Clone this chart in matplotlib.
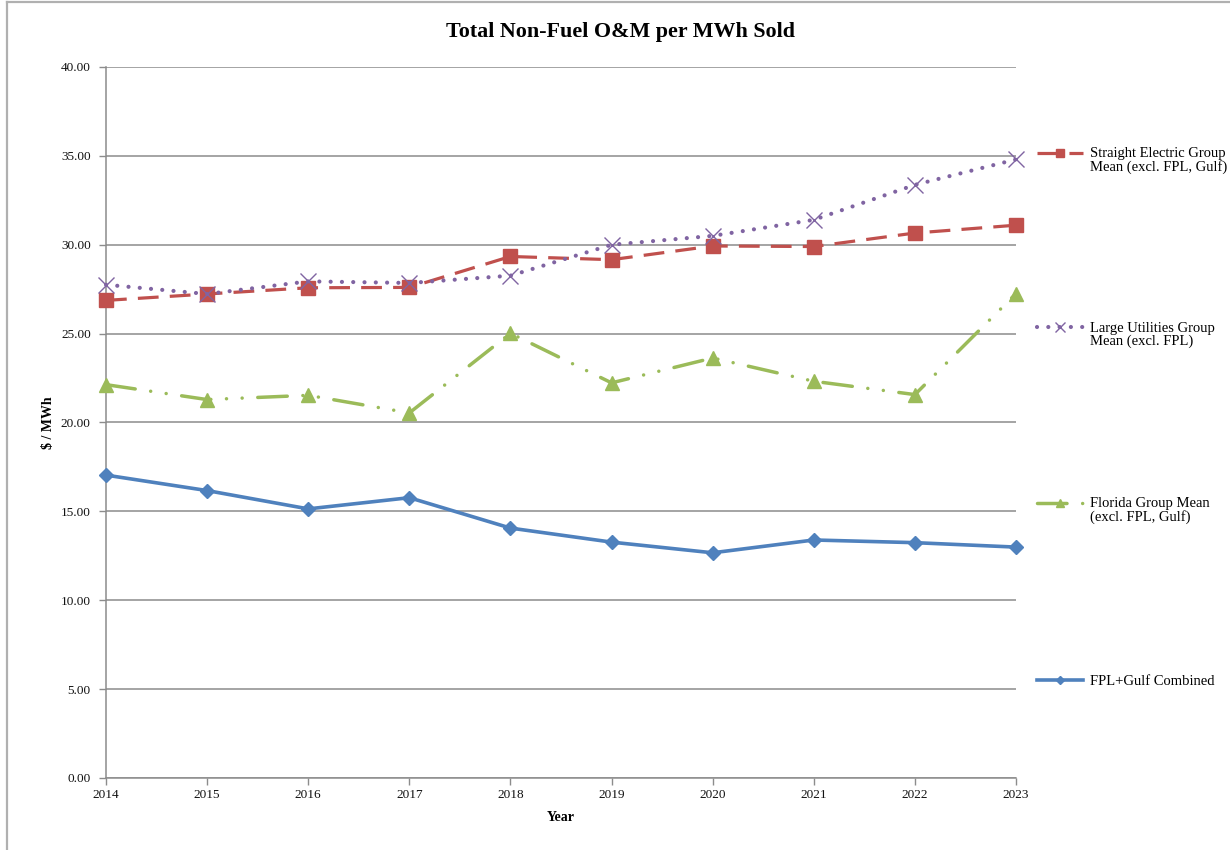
import matplotlib
matplotlib.use("Agg")
import matplotlib.pyplot as plt
from matplotlib.lines import Line2D
from matplotlib.legend_handler import HandlerLine2D

plt.rcParams['font.family'] = ['Liberation Serif', 'DejaVu Serif']

years = [2014, 2015, 2016, 2017, 2018, 2019, 2020, 2021, 2022, 2023]
straight_electric = [26.87, 27.23, 27.58, 27.60, 29.34, 29.16, 29.93, 29.90, 30.66, 31.10]
large_utilities = [27.75, 27.23, 27.94, 27.85, 28.26, 30.00, 30.50, 31.40, 33.37, 34.80]
florida_group = [22.13, 21.29, 21.53, 20.54, 25.02, 22.23, 23.63, 22.32, 21.57, 27.25]
fpl_gulf = [17.04, 16.17, 15.14, 15.77, 14.06, 13.27, 12.67, 13.39, 13.24, 12.99]

labels = [
    "Straight Electric Group\nMean (excl. FPL, Gulf)",
    "Large Utilities Group\nMean (excl. FPL)",
    "Florida Group Mean\n(excl. FPL, Gulf)",
    "FPL+Gulf Combined",
]
y_ticks = [0, 5, 10, 15, 20, 25, 30, 35, 40]


class ShiftedLineHandler(HandlerLine2D):
    """Line handler whose sample sits a given number of points higher."""
    def __init__(self, shift=0.0, **kw):
        super().__init__(**kw)
        self.shift = shift

    def create_artists(self, legend, orig_handle, xdescent, ydescent, width, height,
                       fontsize, trans):
        return super().create_artists(legend, orig_handle, xdescent,
                                      ydescent - 2 * self.shift, width, height,
                                      fontsize, trans)


fig = plt.figure(figsize=(12.3, 8.5), dpi=100)
ax = fig.add_axes([106/1230, (850-778)/850, 910/1230, 711/850])

red = '#C0504D'
purple = '#8064A2'
green = '#9BBB59'
blue = '#4F81BD'

l1, = ax.plot(years, straight_electric, color=red, lw=2.3, marker='s', markersize=9.5,
              dashes=(6.5, 3.5), solid_capstyle='butt', zorder=4, clip_on=False)
l2, = ax.plot(years, large_utilities, color=purple, lw=3.0, marker='x', markersize=11,
              markeredgewidth=1.0, zorder=5, clip_on=False)
l2.set_dashes((0.01, 2.7))
l2.set_dash_capstyle('round')
l3, = ax.plot(years, florida_group, color=green, lw=2.5, marker='^', markersize=10,
              zorder=3, clip_on=False)
l3.set_dashes((8.5, 4.5, 0.01, 4.5, 0.01, 4.5))
l3.set_dash_capstyle('round')
l4, = ax.plot(years, fpl_gulf, color=blue, lw=2.6, marker='D', markersize=7.5, zorder=6,
              clip_on=False)

ax.set_xlim(2014, 2023)
ax.set_ylim(0, 40)
ax.set_yticks(y_ticks)
ax.set_yticklabels([f"{v:.2f}" for v in y_ticks])
ax.set_xticks(years)
ax.set_xticklabels([str(y) for y in years])
ax.yaxis.grid(True, color='#8c8c8c', lw=1.1)
ax.set_axisbelow(True)
for s in ['top', 'right']:
    ax.spines[s].set_visible(False)
for s in ['left', 'bottom']:
    ax.spines[s].set_color('#8c8c8c')
    ax.spines[s].set_linewidth(1.1)
ax.tick_params(axis='both', colors='#8c8c8c', labelcolor='#111111', labelsize=9.5,
               length=5, width=1.0, direction='out')
ax.tick_params(axis='y', pad=6)
ax.tick_params(axis='x', pad=3)

ax.set_xlabel("Year", fontsize=10, fontweight='bold', labelpad=7)
ax.set_ylabel("$ / MWh", fontsize=10, fontweight='bold', labelpad=4)

fig.text(620/1230, 1 - 32/850, "Total Non-Fuel O&M per MWh Sold", ha='center', va='center',
         fontsize=15.8, fontweight='bold')

# legend: one entry per block, handle aligned with first text line
tops = [147, 322, 497, 675]
lines = [l1, l2, l3, l4]
for line, lab, top in zip(lines, labels, tops):
    two = "\n" in lab
    hm = {line: ShiftedLineHandler(shift=5.6 if two else 0.0)}
    lg = fig.legend([line], [lab], loc='upper left',
                    bbox_to_anchor=(1037/1230, 1 - top/850), frameon=False,
                    fontsize=10.5, handlelength=3.15, handletextpad=0.5,
                    markerscale=0.6,
                    borderaxespad=0, borderpad=0, handler_map=hm)
    for t in lg.get_texts():
        t.set_linespacing(1.0)

# outer chart frame
fig.add_artist(Line2D([7/1230, 7/1230], [0, 1 - 2/850], transform=fig.transFigure,
                      color='#b0b0b0', lw=1.6))
fig.add_artist(Line2D([7/1230, 1], [1 - 2/850, 1 - 2/850], transform=fig.transFigure,
                      color='#b0b0b0', lw=1.6))

fig.savefig("out.png", dpi=100)
